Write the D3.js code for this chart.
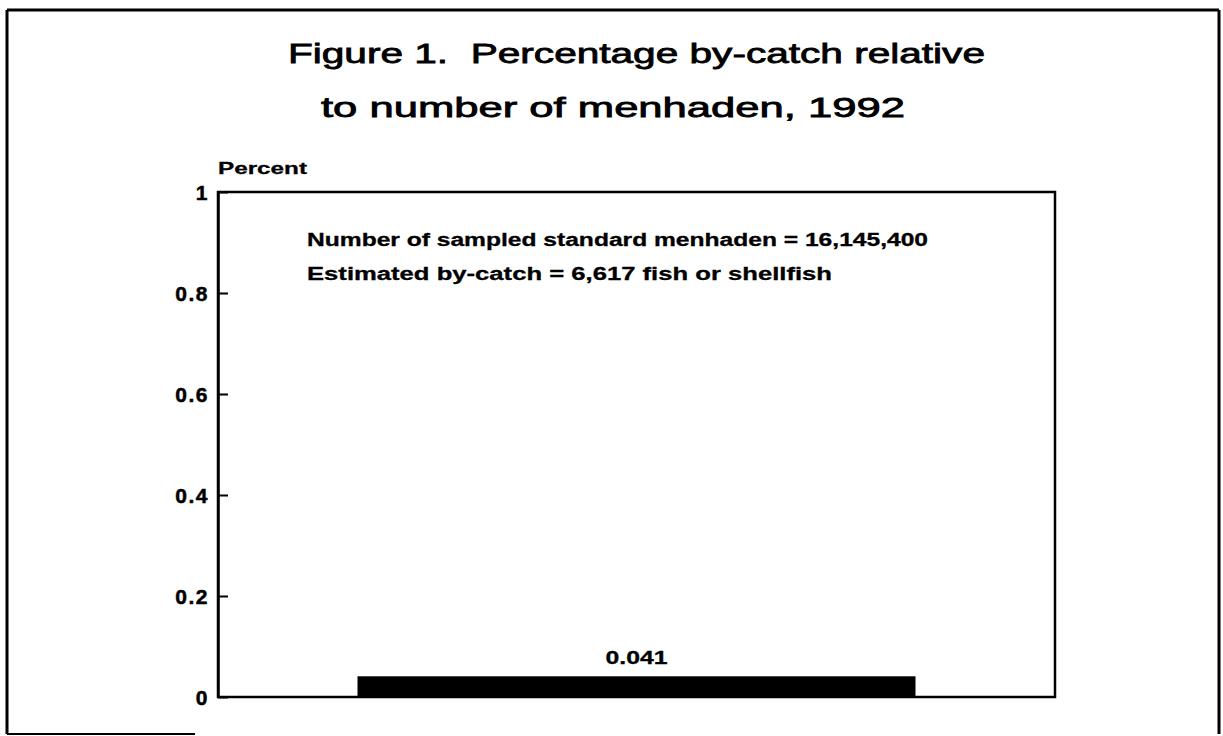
<!DOCTYPE html>
<html>
<head>
<meta charset="utf-8">
<script src="https://cdn.jsdelivr.net/npm/d3@7/dist/d3.min.js"></script>
<style>
  html, body { margin: 0; padding: 0; background: #fff; }
  svg { display: block; }
  text { font-family: "Liberation Sans", Arial, Helvetica, sans-serif; fill: #000; }
</style>
</head>
<body>
<svg id="chart" width="1223" height="736"></svg>
<script>
// ---- data ----
const categories = ["1992"];
const values = [0.041];
const valueLabels = ["0.041"];
const yTicks = [0, 0.2, 0.4, 0.6, 0.8, 1];
const yTickLabels = ["0", "0.2", "0.4", "0.6", "0.8", "1"];
const titleLines = ["Figure 1.  Percentage by-catch relative", "to number of menhaden, 1992"];
const yAxisTitle = "Percent";
const noteLines = ["Number of sampled standard menhaden = 16,145,400",
                   "Estimated by-catch = 6,617 fish or shellfish"];

// ---- layout ----
const svg = d3.select("#chart");
const plot = { left: 218, top: 192, right: 1055, bottom: 697 };

// outer frame (scanned page border)
const frame = svg.append("g").attr("stroke", "#000").attr("fill", "none").attr("stroke-width", 3);
frame.append("line").attr("x1", 7).attr("y1", 10).attr("x2", 1219).attr("y2", 10);
frame.append("line").attr("x1", 7).attr("y1", 10).attr("x2", 7).attr("y2", 734);
frame.append("line").attr("x1", 1219).attr("y1", 10).attr("x2", 1219).attr("y2", 734);
frame.append("line").attr("x1", 7).attr("y1", 734).attr("x2", 195).attr("y2", 734).attr("stroke-width", 2);

// title
const titleSpec = [
  { x: 288, y: 63, len: 697 },
  { x: 321, y: 117, len: 584 }
];
svg.selectAll("text.title").data(titleLines).join("text")
  .attr("class", "title")
  .attr("x", (d, i) => titleSpec[i].x)
  .attr("y", (d, i) => titleSpec[i].y)
  .attr("textLength", (d, i) => titleSpec[i].len)
  .attr("lengthAdjust", "spacingAndGlyphs")
  .style("font-size", "28px")
  .style("stroke", "#000").style("stroke-width", "0.8px")
  .style("white-space", "pre")
  .text(d => d);

// scales
const x = d3.scaleBand().domain(categories).range([plot.left, plot.right]).padding(0.2);
const y = d3.scaleLinear().domain([0, 1]).range([plot.bottom, plot.top]);

// plot box
svg.append("rect")
  .attr("x", plot.left).attr("y", plot.top)
  .attr("width", plot.right - plot.left).attr("height", plot.bottom - plot.top)
  .attr("fill", "none").attr("stroke", "#000").attr("stroke-width", 2.5);

// y axis
const yAxis = d3.axisLeft(y)
  .tickValues(yTicks)
  .tickFormat((d, i) => yTickLabels[i])
  .tickSizeInner(-10)
  .tickSizeOuter(0)
  .tickPadding(9);
const gy = svg.append("g").attr("transform", `translate(${plot.left},0)`)
  .call(yAxis)
  .attr("font-size", null).attr("font-family", null);
gy.select(".domain").attr("stroke-width", 2.5);
gy.selectAll(".tick line").attr("stroke-width", 2);
gy.selectAll(".tick text")
  .style("font-size", "21px").style("font-weight", "bold")
  .style("letter-spacing", "1.5px")
  .style("stroke", "#000").style("stroke-width", "0.5px")
  .attr("dy", "0.36em");

// y axis title
svg.append("text")
  .attr("x", plot.left).attr("y", 174)
  .attr("textLength", 89).attr("lengthAdjust", "spacingAndGlyphs")
  .style("font-size", "17px").style("font-weight", "bold")
  .style("stroke", "#000").style("stroke-width", "0.3px")
  .text(yAxisTitle);

// annotation lines
const noteSpec = [
  { y: 246, len: 621 },
  { y: 280, len: 525 }
];
svg.selectAll("text.note").data(noteLines).join("text")
  .attr("class", "note")
  .attr("x", 307)
  .attr("y", (d, i) => noteSpec[i].y)
  .attr("textLength", (d, i) => noteSpec[i].len)
  .attr("lengthAdjust", "spacingAndGlyphs")
  .style("font-size", "18px").style("font-weight", "bold")
  .style("stroke", "#000").style("stroke-width", "0.3px")
  .text(d => d);

// bars
svg.selectAll("rect.bar").data(values).join("rect")
  .attr("class", "bar")
  .attr("x", (d, i) => x(categories[i]))
  .attr("width", x.bandwidth())
  .attr("y", d => y(d))
  .attr("height", d => y(0) - y(d))
  .attr("fill", "#000");

// value labels
svg.selectAll("text.vlabel").data(values).join("text")
  .attr("class", "vlabel")
  .attr("x", (d, i) => x(categories[i]) + x.bandwidth() / 2)
  .attr("y", d => y(d) - 12)
  .attr("text-anchor", "middle")
  .attr("textLength", 62).attr("lengthAdjust", "spacingAndGlyphs")
  .style("font-size", "18px").style("font-weight", "bold")
  .style("stroke", "#000").style("stroke-width", "0.3px")
  .text((d, i) => valueLabels[i]);
</script>
</body>
</html>
